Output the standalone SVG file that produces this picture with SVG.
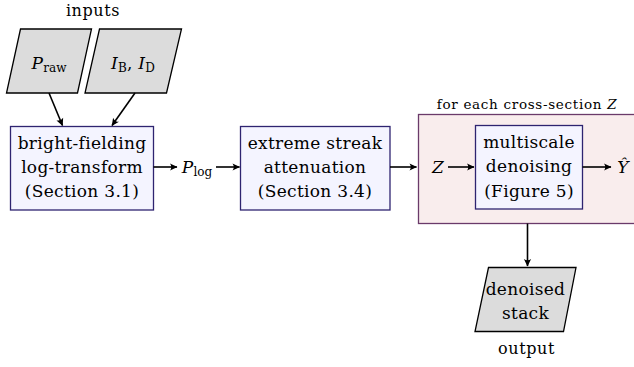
<svg xmlns="http://www.w3.org/2000/svg" width="634" height="367" viewBox="0 0 634 367" font-family="'DejaVu Serif', serif">
<defs>
<style>
text{font-family:'DejaVu Serif',serif;fill:#000}
.t{font-size:17px;text-anchor:middle;letter-spacing:0.3px}
.m{font-style:italic}
.sub{font-size:12px;font-style:normal;letter-spacing:0}
.small{font-size:13.5px;text-anchor:middle;letter-spacing:0.7px}
.lbl{font-size:16px;text-anchor:middle;letter-spacing:0.6px}
.io{fill:#dcdcdc;stroke:#000;stroke-width:1.3}
.proc{fill:#f4f4ff;stroke:#2e2470;stroke-width:1.3}
.loop{fill:#f9eded;stroke:#6a3a6a;stroke-width:1.3}
.c{fill:none;stroke:#000;stroke-width:1.6;marker-end:url(#ah)}
</style>
<marker id="ah" viewBox="-8 -5 9 10" refX="0" refY="0" markerWidth="9" markerHeight="10" markerUnits="userSpaceOnUse" orient="auto">
<path d="M0.5,0 L-7,-3.6 Q-4.5,0 -7,3.6 Z" fill="#000"/>
</marker>
</defs>
<text class="lbl" x="93" y="16">inputs</text>
<g id="p_raw">
<polygon class="io" points="20.5,29 91.5,29 77.5,93 6.5,93"/>
<text class="t" x="49" y="69"><tspan class="m">P</tspan><tspan class="sub" dy="3">raw</tspan></text>
</g>
<g id="ib_id">
<polygon class="io" points="99.5,29 181.5,29 166.5,93 85,93"/>
<text class="t" x="133" y="69"><tspan class="m">I</tspan><tspan class="sub" dy="3">B</tspan><tspan dy="-3">, </tspan><tspan class="m">I</tspan><tspan class="sub" dy="3">D</tspan></text>
</g>
<g id="brightfield">
<rect class="proc" x="10.5" y="126.5" width="143" height="83.5"/>
<text class="t" x="82" y="149">bright-fielding</text>
<text class="t" x="82" y="173">log-transform</text>
<text class="t" x="82" y="197">(Section 3.1)</text>
</g>
<g id="plog">
<text class="t" x="197" y="173"><tspan class="m">P</tspan><tspan class="sub" dy="3">log</tspan></text>
</g>
<g id="streak">
<rect class="proc" x="240.5" y="126.5" width="149.5" height="83.5"/>
<text class="t" x="315" y="149">extreme streak</text>
<text class="t" x="315" y="173">attenuation</text>
<text class="t" x="315" y="197">(Section 3.4)</text>
</g>
<g id="loop">
<rect class="loop" x="418.5" y="114.5" width="220" height="109"/>
<text class="small" x="527" y="109">for each cross-section <tspan class="m">Z</tspan></text>
</g>
<g id="zin"><text class="t m" x="438" y="173">Z</text></g>
<g id="denoise">
<rect class="proc" x="475.5" y="125.5" width="107" height="83.5"/>
<text class="t" x="529" y="148">multiscale</text>
<text class="t" x="529" y="172">denoising</text>
<text class="t" x="529" y="197">(Figure 5)</text>
</g>
<g id="yhat"><text class="t m" x="623" y="173">Ŷ</text></g>
<g id="output">
<polygon class="io" points="488.5,267.5 576,267.5 563.5,331.5 475,331.5"/>
<text class="t" x="525.5" y="295">denoised</text>
<text class="t" x="525.5" y="319">stack</text>
<text class="lbl" x="526.5" y="354">output</text>
</g>
<g id="connectors">
<path class="c" d="M49,93 L62.5,125.5"/>
<path class="c" d="M135,93 L112,125.5"/>
<path class="c" d="M153.5,167 L177,167"/>
<path class="c" d="M216,167 L239.5,167"/>
<path class="c" d="M390,167 L416.5,167"/>
<path class="c" d="M448,167 L474,167"/>
<path class="c" d="M582.5,167 L611,167"/>
<path class="c" d="M527.5,223.5 L527.5,266"/>
</g>
</svg>
